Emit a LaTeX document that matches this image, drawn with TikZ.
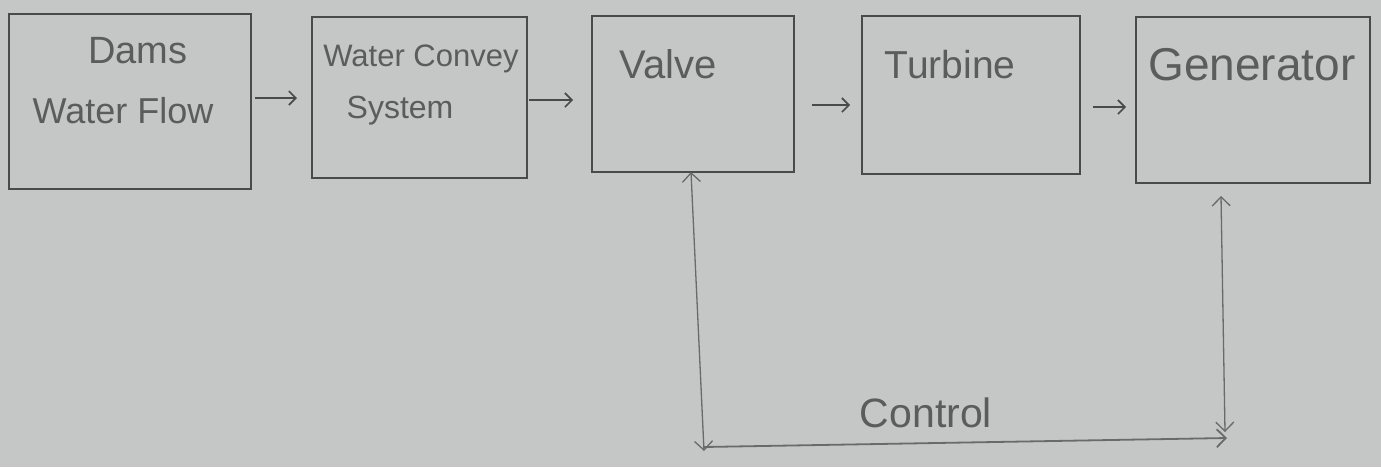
\documentclass[tikz,border=0pt]{standalone}
\usepackage{fontspec}
\setmainfont{Liberation Sans}
\usetikzlibrary{arrows.meta}
\definecolor{paper}{HTML}{C4C7C6}
\definecolor{pencil}{HTML}{4A4A4A}
\definecolor{ink}{HTML}{5C5C5C}
\definecolor{lightpencil}{HTML}{6A6A6A}
\begin{document}
\begin{tikzpicture}[x=1pt,y=-1pt,
  box/.style={draw=pencil, line width=2pt, inner sep=0pt, outer sep=0pt},
  lbl/.style={text=ink, inner sep=0pt, anchor=base},
  flow/.style={draw=pencil, line width=1.6pt, -{Straight Barb[length=7pt,width=14pt]}},
  ctrl/.style={draw=lightpencil, line width=1.3pt},
  tip/.style={Straight Barb[length=9pt,width=18pt]}]
\fill[paper] (0,0) rectangle (1381,467);
\useasboundingbox (0,0) rectangle (1381,467);

% boxes
\node[box, line width=2.6pt, minimum width=242pt, minimum height=175pt] (b1) at (130,101.5) {};
\node[box, minimum width=215pt, minimum height=161pt] (b2) at (419.5,97.5) {};
\node[box, minimum width=202pt, minimum height=156pt] (b3) at (693,94) {};
\node[box, line width=2.3pt, minimum width=218pt, minimum height=158pt] (b4) at (971,95) {};
\node[box, minimum width=234pt, minimum height=166pt] (b5) at (1253,100) {};

% labels
\node[lbl, font=\fontsize{38}{42}\selectfont] (t1a) at (138,63) {Dams};
\node[lbl, font=\fontsize{36}{40}\selectfont] (t1b) at (123,123) {Water Flow};
\node[lbl, font=\fontsize{31}{35}\selectfont] (t2a) at (421,66) {Water Convey};
\node[lbl, font=\fontsize{32}{36}\selectfont] (t2b) at (400,118) {System};
\node[lbl, font=\fontsize{40}{44}\selectfont] (t3) at (668,78) {Valve};
\node[lbl, font=\fontsize{39}{43}\selectfont] (t4) at (950,78) {Turbine};
\node[lbl, font=\fontsize{46}{50}\selectfont] (t5) at (1252,80) {Generator};
\node[lbl, font=\fontsize{41}{45}\selectfont] (tc) at (926,427) {Control};

% flow arrows
\coordinate (a1s) at (255,98);  \coordinate (a1e) at (297,98);
\coordinate (a2s) at (529,100); \coordinate (a2e) at (573,100);
\coordinate (a3s) at (812,105); \coordinate (a3e) at (850,105);
\coordinate (a4s) at (1093,107); \coordinate (a4e) at (1126,107);
\draw[flow] (a1s) -- (a1e);
\draw[flow] (a2s) -- (a2e);
\draw[flow] (a3s) -- (a3e);
\draw[flow] (a4s) -- (a4e);

% control loop
\coordinate (cL) at (704,447);
\coordinate (cR) at (1227,438);
\coordinate (gT) at ([xshift=-32pt,yshift=-13pt]b5.south);
\coordinate (gB) at (1225,432);
\draw[ctrl, {Straight Barb[length=9pt,width=18pt]}-{Straight Barb[length=9pt,width=18pt]}] ([xshift=-2pt]b3.south) -- ([yshift=-4pt]cL);
\draw[ctrl, line width=1.8pt, -{Straight Barb[length=9pt,width=18pt]}] (cL) -- (cR);
\draw[ctrl, {Straight Barb[length=9pt,width=18pt]}-{Straight Barb[length=9pt,width=18pt]}] (gT) -- (gB);
\end{tikzpicture}
\end{document}
